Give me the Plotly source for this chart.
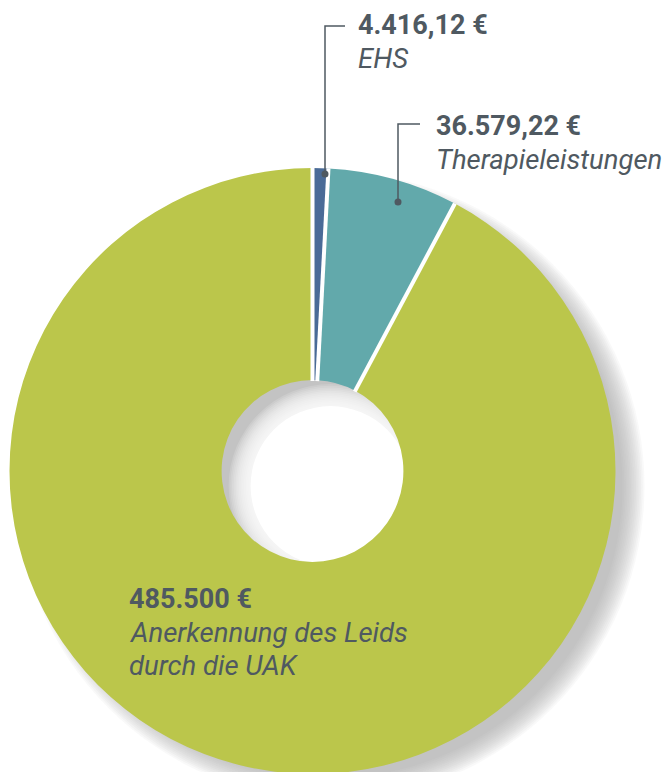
import math

import plotly.graph_objects as go

# --- data -----------------------------------------------------------------
categories = ["EHS", "Therapieleistungen", "Anerkennung des Leids durch die UAK"]
amounts = [4416.12, 36579.22, 485500.00]
amount_labels = ["4.416,12 €", "36.579,22 €", "485.500 €"]
label_lines = [["EHS"], ["Therapieleistungen"], ["Anerkennung des Leids", "durch die UAK"]]
colors = ["#4a6b97", "#62a9ab", "#bbc64b"]

W, H = 671, 772
OFF = 8  # default body margin of the html page
TEXT = "#4f5961"
FONT = "Roboto, 'Open Sans', sans-serif"

# donut geometry in page pixels
CX, CY, R = 312.5, 471.0, 303.0
HOLE = 0.30
R_IN = R * HOLE


def px(x):
    return (x - OFF) / W


def py(y):
    return 1 - (y - OFF) / H


fig = go.Figure()
fig.add_trace(
    go.Pie(
        labels=categories,
        values=amounts,
        hole=HOLE,
        sort=False,
        direction="clockwise",
        rotation=0,
        marker={"colors": colors, "line": {"width": 0}},
        textinfo="none",
        hoverinfo="label+value",
        showlegend=False,
        domain={"x": [px(CX - R), px(CX + R)], "y": [py(CY + R), py(CY - R)]},
    )
)

shapes = []

# soft drop shadow (offset donut), built from stacked translucent circles
SX, SY, BLUR, N = 18, 15, 11, 14
scx, scy = CX + SX, CY + SY
for k in range(N):
    rr = R - BLUR + 2 * BLUR * k / (N - 1)
    shapes.append(dict(
        type="circle", xref="paper", yref="paper", layer="below",
        x0=px(scx - rr), x1=px(scx + rr), y0=py(scy + rr), y1=py(scy - rr),
        fillcolor="rgba(160,160,160,0.066)", line={"width": 0},
    ))
for k in range(N):
    rr = R_IN + BLUR - 2 * BLUR * k / (N - 1)
    alpha = 1.0 if k == N - 1 else 0.15
    shapes.append(dict(
        type="circle", xref="paper", yref="paper", layer="below",
        x0=px(scx - rr), x1=px(scx + rr), y0=py(scy + rr), y1=py(scy - rr),
        fillcolor=f"rgba(255,255,255,{alpha})", line={"width": 0},
    ))

# white gaps between slices, at the slice boundaries
total = sum(amounts)
cum = 0.0
for v in [0.0] + amounts[:-1]:
    cum += v
    ang = 2 * math.pi * cum / total
    sx, sy = math.sin(ang), -math.cos(ang)
    shapes.append(dict(
        type="line", xref="paper", yref="paper", layer="above",
        x0=px(CX + sx * (R_IN - 1)), y0=py(CY + sy * (R_IN - 1)),
        x1=px(CX + sx * R), y1=py(CY + sy * R),
        line={"color": "white", "width": 4},
    ))

# leader lines for the two small slices: (dot, elbow, end) in page pixels
leaders = [
    ((325, 174), (325, 26), (345, 26)),
    ((398, 202), (398, 124), (420, 124)),
]
for dot, elbow, end in leaders:
    shapes.append(dict(
        type="path", xref="paper", yref="paper", layer="above",
        path=f"M {px(dot[0])},{py(dot[1])} L {px(elbow[0])},{py(elbow[1])} L {px(end[0])},{py(end[1])}",
        line={"color": TEXT, "width": 1.5},
    ))
    shapes.append(dict(
        type="circle", xref="paper", yref="paper", layer="above",
        x0=px(dot[0] - 3.5), x1=px(dot[0] + 3.5), y0=py(dot[1] + 3.5), y1=py(dot[1] - 3.5),
        fillcolor=TEXT, line={"width": 0},
    ))

# label block positions (left edge, top of first line), page pixels
label_pos = [(357, 8), (435, 109), (128, 582)]
LINE_STEP = 33
annotations = []
for (x, y), amount, lines in zip(label_pos, amount_labels, label_lines):
    rows = [(f"<b>{amount}</b>", 27)] + [(f"<i>{ln}</i>", 27.5) for ln in lines]
    for i, (txt, size) in enumerate(rows):
        annotations.append(dict(
            x=px(x), y=py(y + i * LINE_STEP), xref="paper", yref="paper",
            xanchor="left", yanchor="top", align="left", borderpad=0,
            text=txt, showarrow=False,
            font={"family": FONT, "size": size, "color": TEXT},
        ))

fig.update_layout(
    width=W,
    height=H,
    margin={"l": 0, "r": 0, "t": 0, "b": 0},
    paper_bgcolor="white",
    plot_bgcolor="white",
    shapes=shapes,
    annotations=annotations,
)

fig.write_html("out.html")
